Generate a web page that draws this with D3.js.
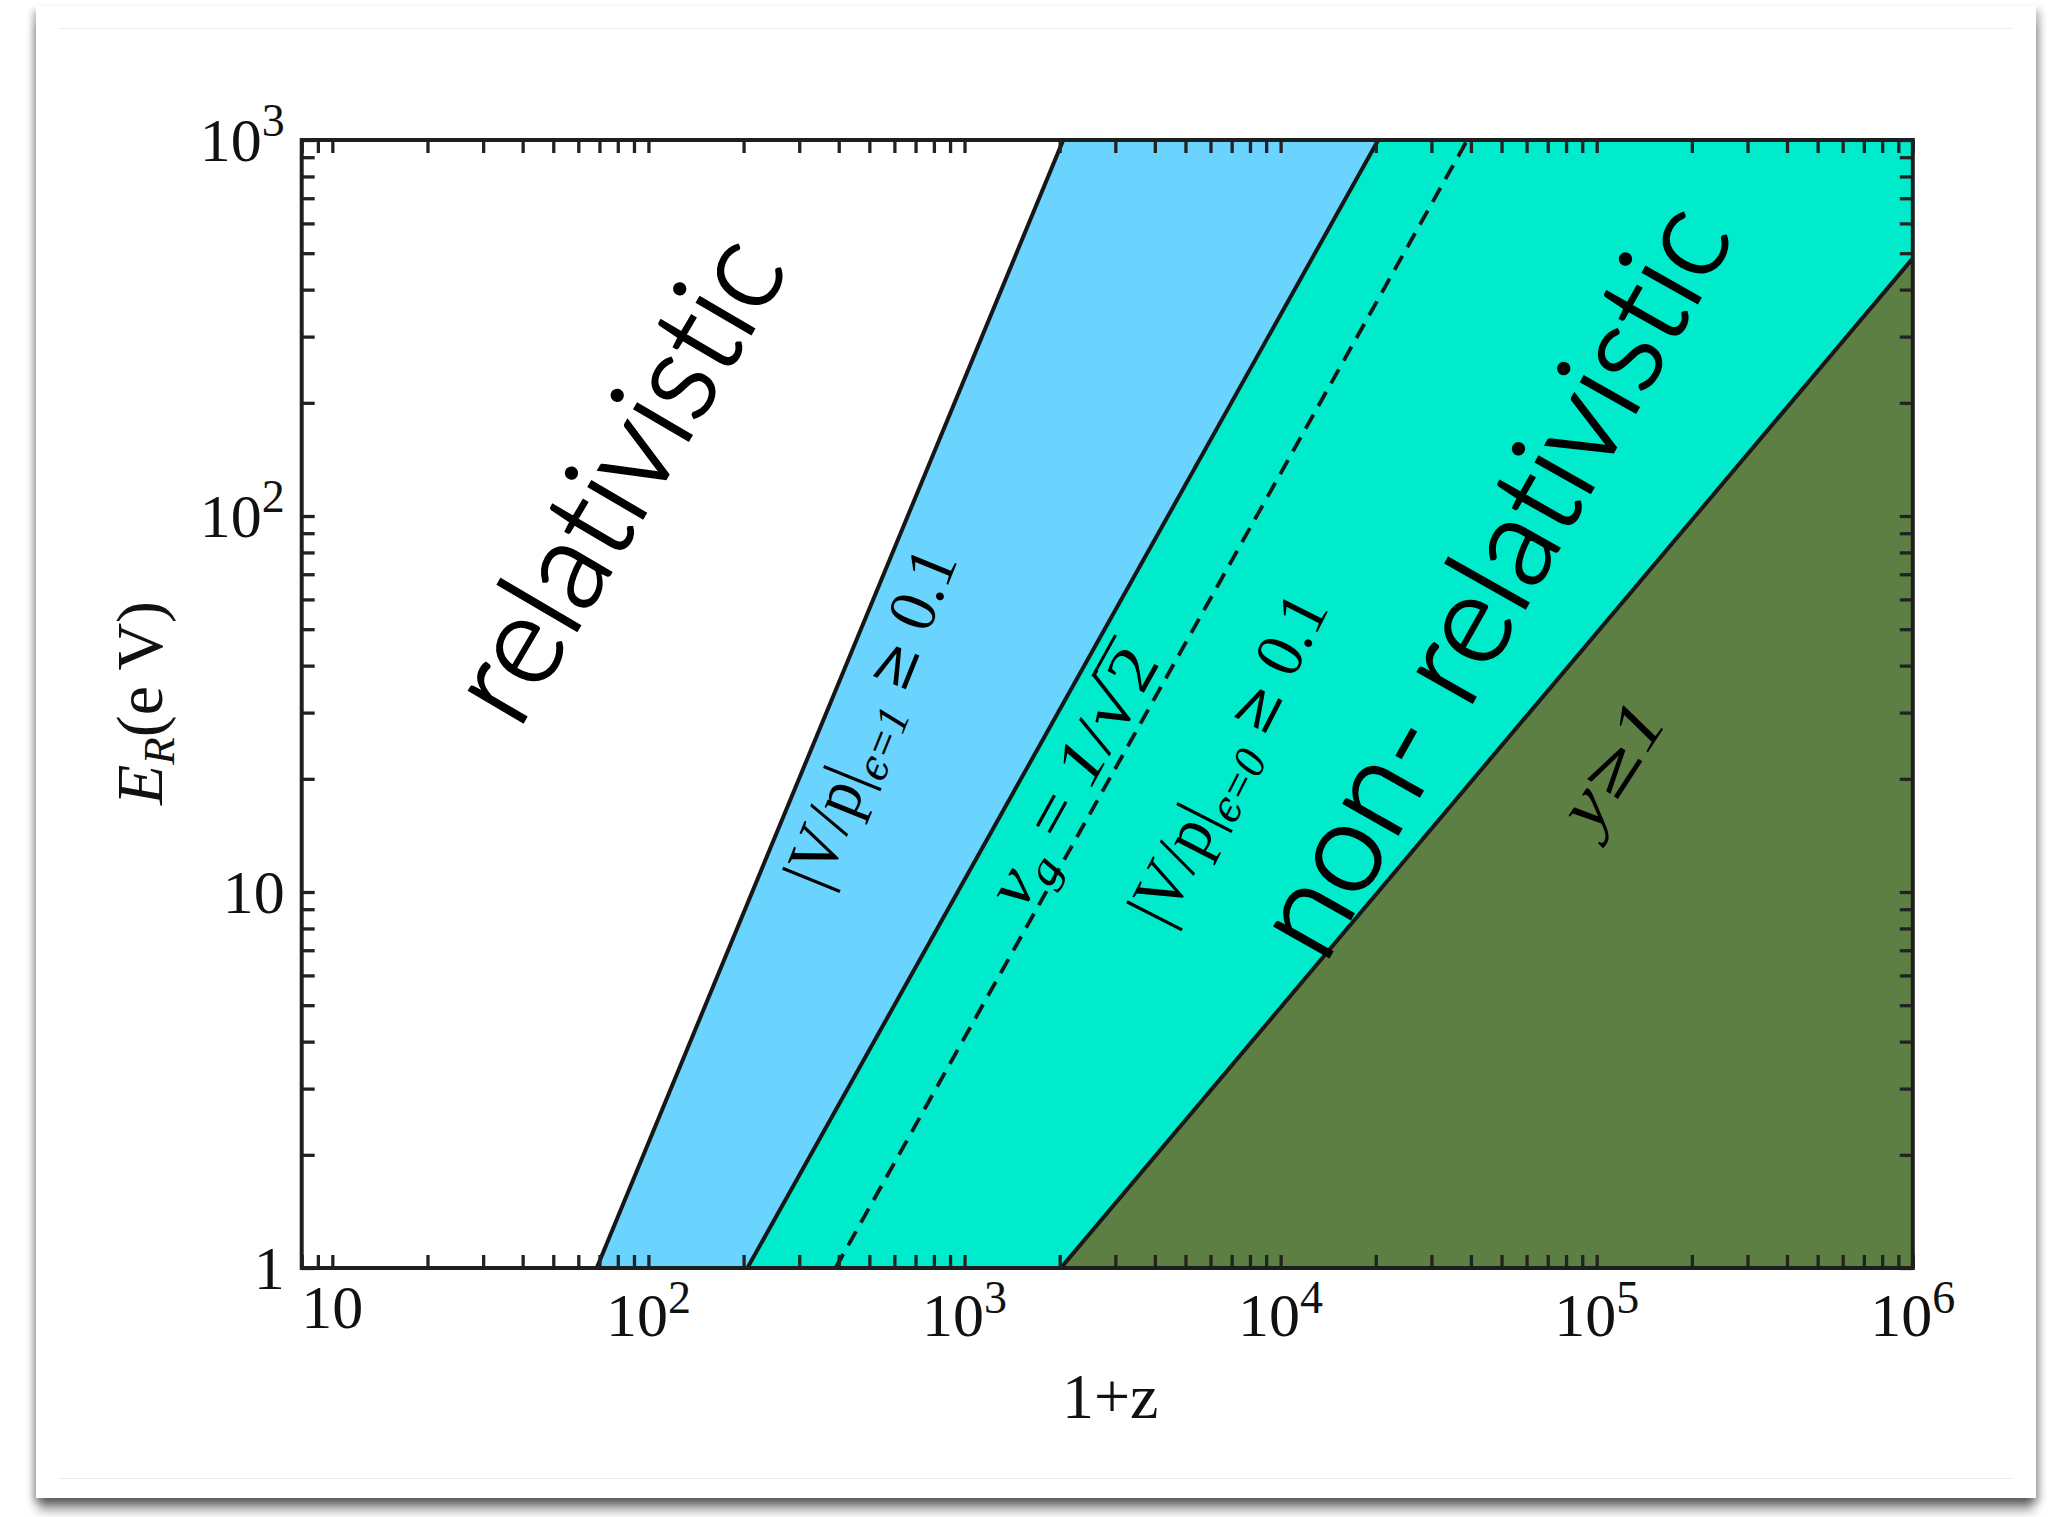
<!DOCTYPE html>
<html>
<head>
<meta charset="utf-8">
<script src="https://cdn.jsdelivr.net/npm/d3@7"></script>
<style>
  html, body { margin: 0; padding: 0; background: #fff; width: 2060px; height: 1517px; overflow: hidden; }
  #card {
    position: absolute; left: 36px; top: 6px; width: 2000px; height: 1492px; background: #fff;
    box-shadow: 0 14px 10px -2px rgba(0,0,0,0.42), -4px 4px 6px rgba(0,0,0,0.22), 5px 4px 7px rgba(0,0,0,0.22);
  }
  #chart { position: absolute; left: 0; top: 0; }
  .serif { font-family: "Liberation Serif", "Times New Roman", serif; font-weight: 400; }
  .sans { font-family: Lato, "Open Sans", sans-serif; font-weight: 300; font-variant-ligatures: none;
          stroke: #000; stroke-width: 2.2px; }
</style>
</head>
<body>
<div id="card"></div>
<svg id="chart" width="2060" height="1517"></svg>
<script>
// ---- data -------------------------------------------------------------
// axis ranges: 1+z (horizontal), E_R in eV (vertical)
const xDomain = [8, 1e6];
const yDomain = [1, 1e3];

// region boundaries, points given as [1+z, E_R]
const vpEps1 = [[68.6, 1], [2053, 1000]];     // |V/p| at eps=1 equals 0.1
const vpEps0 = [[205.6, 1], [20370, 1000]];   // |V/p| at eps=0 equals 0.1
const vgHalf = [[390.7, 1], [38960, 1000]];   // v_g = 1/sqrt(2)
const yOne   = [[2016, 1], [1e6, 484.6]];     // y = 1

// major tick labels
const xMajor    = [1e1, 1e2, 1e3, 1e4, 1e5, 1e6];
const xMajorExp = ["", "2", "3", "4", "5", "6"];
const yMajor    = [1, 10, 100, 1000];
const yMajorBase = ["1", "10", "10", "10"];
const yMajorExp  = ["", "", "2", "3"];
const mantissas = [1, 2, 3, 4, 5, 6, 7, 8, 9];

// ---- layout -----------------------------------------------------------
const plotL = 301.7, plotR = 1912.8, plotT = 140, plotB = 1268;
const svg = d3.select("#chart");

const x = d3.scaleLog().domain(xDomain).range([plotL, plotR]);
const y = d3.scaleLog().domain(yDomain).range([plotB, plotT]);

const colors = { blue: "#6AD3FE", teal: "#00EBCC", olive: "#5D7F43", ink: "#161616" };

svg.append("defs").append("clipPath").attr("id", "plotClip")
  .append("rect").attr("x", plotL).attr("y", plotT)
  .attr("width", plotR - plotL).attr("height", plotB - plotT);

// faint inner border lines of the sheet
svg.append("line").attr("x1", 58).attr("x2", 2012).attr("y1", 28.5).attr("y2", 28.5)
  .attr("stroke", "#ededed").attr("stroke-width", 1.2);
svg.append("line").attr("x1", 58).attr("x2", 2012).attr("y1", 1478.5).attr("y2", 1478.5)
  .attr("stroke", "#ededed").attr("stroke-width", 1.2);

const plot = svg.append("g").attr("clip-path", "url(#plotClip)");
const line = d3.line().x(d => x(d[0])).y(d => y(d[1]));

const cornerTR = [xDomain[1], yDomain[1]];
const cornerBR = [xDomain[1], yDomain[0]];

// filled regions, drawn back to front
plot.append("path").attr("d", line(vpEps1.concat([cornerTR, cornerBR])) + "Z").attr("fill", colors.blue);
plot.append("path").attr("d", line(vpEps0.concat([cornerTR, cornerBR])) + "Z").attr("fill", colors.teal);
plot.append("path").attr("d", line(yOne.concat([cornerBR])) + "Z").attr("fill", colors.olive);

// boundary lines
[vpEps1, vpEps0, yOne].forEach(b => {
  plot.append("path").attr("d", line(b)).attr("fill", "none")
    .attr("stroke", colors.ink).attr("stroke-width", 4);
});
plot.append("path").attr("d", line(vgHalf)).attr("fill", "none")
  .attr("stroke", colors.ink).attr("stroke-width", 3.8).attr("stroke-dasharray", "16 10");

// ---- rotated annotations -----------------------------------------------
// each part: [text, italic, sizeFactor, baselineShift(em of part), family]
const SER = "Liberation Serif";
const SYM = "DejaVu Serif";
const labels = [
  { at: [38.7, 26.8], angle: -59.6, cls: "sans", size: 126, len: 536,
    parts: [["relativistic", false, 1, 0, null]] },
  { at: [13710, 6.36], angle: -60.6, cls: "sans", size: 126, len: 838,
    parts: [["non- relativistic", false, 1, 0, null]] },
  { at: [359, 10.0], angle: -68, cls: "serif", size: 68, len: 358,
    parts: [["|V/p|", false, 1, 0, SER], ["\u03F5", true, 0.62, 0.3, SYM], ["=1", true, 0.68, 0.3, SER],
            [" ", false, 1, 0, SER], ["\u2265", false, 0.9, 0, SYM], [" 0.1", false, 1, 0, SER]] },
  { at: [1526, 8.86], angle: -61, cls: "serif", size: 66, len: 285, radical: true,
    parts: [["v", true, 1, 0, SER], ["g", true, 0.68, 0.3, SER], [" = ", false, 1, 0, SER], ["1", true, 1, 0, SER],
            ["/", false, 1, 0, SER], ["\u221A", false, 1, 0, SYM], ["2", false, 1, 0, SER]] },
  { at: [4337, 7.97], angle: -63, cls: "serif", size: 68, len: 360,
    parts: [["|V/p|", false, 1, 0, SER], ["\u03F5", true, 0.62, 0.3, SYM], ["=0", true, 0.68, 0.3, SER],
            [" ", false, 1, 0, SER], ["\u2265", false, 0.9, 0, SYM], [" 0.1", false, 1, 0, SER]] },
  { at: [98400, 14.2], angle: -57, cls: "serif", size: 70, len: 135,
    parts: [["y", true, 1, 0, SER], ["\u2265", false, 0.9, 0, SYM], ["1", true, 1, 0, SER]] }
];

const annot = svg.append("g");
labels.forEach(spec => {
  const g = annot.append("g")
    .attr("transform", `translate(${x(spec.at[0])},${y(spec.at[1])}) rotate(${spec.angle})`);
  const inner = g.append("g");
  const t = inner.append("text").attr("class", spec.cls)
    .attr("font-size", spec.size).attr("fill", "#000");
  let shift = 0;
  spec.parts.forEach(p => {
    const fs = spec.size * p[2];
    const target = p[3] * spec.size * 0.68;
    const ts = t.append("tspan").text(p[0])
      .attr("font-size", fs)
      .attr("font-style", p[1] ? "italic" : "normal")
      .attr("dy", target - shift);
    if (p[4]) ts.style("font-family", `"${p[4]}"`);
    if (p[4] === SYM) ts.attr("font-weight", 300);
    shift = target;
  });
  const natural = t.node().getComputedTextLength();
  const k = spec.len / natural;
  inner.attr("transform", `scale(${k},1)`);
  if (spec.radical) {
    const txt = t.text();
    const iRad = txt.indexOf("\u221A");
    const iTwo = txt.lastIndexOf("2");
    const n = t.node();
    const x0 = n.getStartPositionOfChar(iRad).x + n.getExtentOfChar(iRad).width * 0.85;
    const x1 = n.getEndPositionOfChar(iTwo).x + 2;
    inner.append("line").attr("x1", x0).attr("x2", x1)
      .attr("y1", -0.80 * spec.size).attr("y2", -0.80 * spec.size)
      .attr("stroke", "#000").attr("stroke-width", 3);
  }
});

// ---- frame and ticks --------------------------------------------------
const xTicks = [];
for (let e = 0; e <= 5; e++) mantissas.forEach(m => {
  const v = m * Math.pow(10, e);
  if (v >= xDomain[0] && v <= xDomain[1]) xTicks.push(v);
});
xTicks.push(1e6);
const yTicks = [];
for (let e = 0; e <= 2; e++) mantissas.forEach(m => yTicks.push(m * Math.pow(10, e)));
yTicks.push(1000);

const tickLen = 13;
function styleAxis(g) {
  g.select(".domain").remove();
  g.selectAll(".tick line").attr("stroke", "#222").attr("stroke-width", 3.3);
}
svg.append("g").attr("transform", `translate(0,${plotB})`)
  .call(d3.axisTop(x).tickValues(xTicks).tickSize(tickLen).tickFormat("")).call(styleAxis);
svg.append("g").attr("transform", `translate(0,${plotT})`)
  .call(d3.axisBottom(x).tickValues(xTicks).tickSize(tickLen).tickFormat("")).call(styleAxis);
svg.append("g").attr("transform", `translate(${plotL},0)`)
  .call(d3.axisRight(y).tickValues(yTicks).tickSize(tickLen).tickFormat("")).call(styleAxis);
svg.append("g").attr("transform", `translate(${plotR},0)`)
  .call(d3.axisLeft(y).tickValues(yTicks).tickSize(tickLen).tickFormat("")).call(styleAxis);

svg.append("rect").attr("x", plotL).attr("y", plotT)
  .attr("width", plotR - plotL).attr("height", plotB - plotT)
  .attr("fill", "none").attr("stroke", "#1e1e1e").attr("stroke-width", 4);

// ---- tick labels -------------------------------------------------------
const labelSize = 62, supSize = 46;
const xl = svg.append("g").attr("class", "serif").attr("font-size", labelSize).attr("fill", "#111");
xMajor.forEach((v, i) => {
  const hasExp = xMajorExp[i] !== "";
  const t = xl.append("text").attr("x", x(v)).attr("y", plotB + (hasExp ? 68 : 60))
    .attr("text-anchor", "middle");
  t.append("tspan").text("10");
  if (hasExp) t.append("tspan").attr("font-size", supSize).attr("dy", -23).text(xMajorExp[i]);
});
const yl = svg.append("g").attr("class", "serif").attr("font-size", labelSize).attr("fill", "#111");
yMajor.forEach((v, i) => {
  const t = yl.append("text").attr("x", plotL - 17).attr("y", y(v) + 21)
    .attr("text-anchor", "end");
  t.append("tspan").text(yMajorBase[i]);
  if (yMajorExp[i]) t.append("tspan").attr("font-size", supSize).attr("dy", -25).text(yMajorExp[i]);
});

// ---- axis titles ---------------------------------------------------------
svg.append("text").attr("class", "serif").attr("font-size", 64).attr("fill", "#111")
  .attr("x", (plotL + plotR) / 2 + 3).attr("y", 1418).attr("text-anchor", "middle")
  .text("1+z");

const yt = svg.append("text").attr("class", "serif").attr("font-size", 66).attr("fill", "#111")
  .attr("text-anchor", "middle")
  .attr("transform", `translate(162,${(plotT + plotB) / 2 - 1}) rotate(-90)`);
yt.append("tspan").attr("font-style", "italic").text("E");
yt.append("tspan").attr("font-style", "italic").attr("font-size", 45).attr("dy", 12).text("R");
yt.append("tspan").attr("dy", -12).text("(e V)");
</script>
</body>
</html>
